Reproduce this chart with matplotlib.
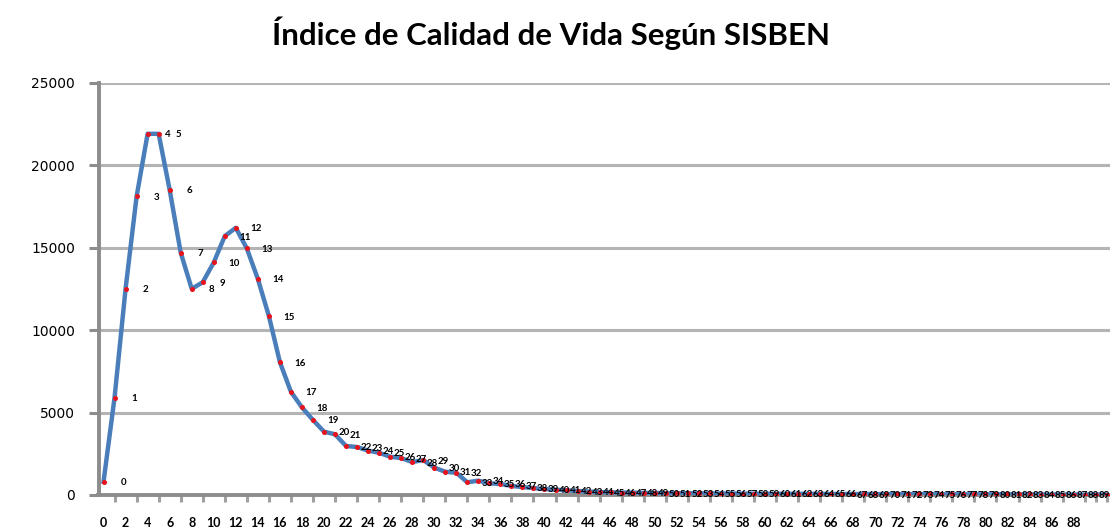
import matplotlib
matplotlib.use('Agg')
import matplotlib.pyplot as plt
from matplotlib.ticker import MultipleLocator

# data (category = index, value = count)
categories = list(range(92))
values = [800, 5900, 12500, 18100, 21900, 21900, 18500, 14700, 12500, 12900,
          14100, 15700, 16200, 14950, 13100, 10850, 8050, 6260, 5310, 4550,
          3840, 3680, 2970, 2910, 2690, 2560, 2320, 2240, 2000, 2120,
          1660, 1410, 1350, 770, 870, 710, 670, 550, 480, 420,
          360, 320, 280, 240, 210, 180, 160, 150, 140, 130,
          120, 115, 110, 105, 100, 95, 90, 90, 85, 80,
          80, 75, 75, 70, 70, 65, 65, 60, 60, 60,
          55, 55, 50, 50, 50, 45, 45, 45, 40, 40,
          40, 40, 35, 35, 35, 30, 30, 30, 30, 25,
          25, 25]
xtick_labels = list(range(0, 89, 2))
yticks = [0, 5000, 10000, 15000, 20000, 25000]

title = 'Índice de Calidad de Vida Según SISBEN'

fig = plt.figure(figsize=(11.1, 5.31), dpi=100)
ax = fig.add_axes([0.0883, 0.0678, 0.9117, 0.7765])

ax.plot(categories, values, color='#4a7ebb', linewidth=3.2, solid_joinstyle='round',
        zorder=3)
ax.plot(categories, values, linestyle='none', marker='o', markersize=2.6,
        color='#e8141c', zorder=4)

# data labels: category number next to each point (the ones that fit)
for c, v in zip(categories[:90], values[:90]):
    ax.annotate(str(c), (c, v), xytext=(20, -1), textcoords='offset pixels',
                ha='center', va='center', fontsize=7, fontweight='bold',
                family='Lato', color='black', zorder=5, annotation_clip=False)

ax.set_xlim(-0.5, 91.3)
ax.set_ylim(0, 25000)
ax.set_yticks(yticks)
ax.set_yticklabels([str(t) for t in yticks], fontsize=17, fontweight='bold',
                   family='Lato')
ax.set_xticks(xtick_labels)
ax.set_xticklabels([str(t) for t in xtick_labels], fontsize=9, fontweight='bold',
                   family='Lato')
ax.xaxis.set_minor_locator(MultipleLocator(1))

ax.grid(axis='y', color='#b4b4b4', linewidth=2.2, zorder=0)
ax.set_axisbelow(True)
for s in ['top', 'right']:
    ax.spines[s].set_visible(False)
for s in ['left', 'bottom']:
    ax.spines[s].set_color('#8c8c8c')
    ax.spines[s].set_linewidth(2.8)
ax.spines['left'].set_position(('data', -0.45))

ax.tick_params(axis='y', length=7, width=2.2, color='#8c8c8c', pad=10)
ax.tick_params(axis='x', which='major', length=0, pad=16)
ax.tick_params(axis='x', which='minor', length=5, width=2.2, color='#a0a0a0')

fig.text(0.496, 0.938, title, ha='center', va='center', fontsize=22.5,
         fontweight='bold', family='Lato')

fig.savefig('out.png', dpi=100, facecolor='white')
